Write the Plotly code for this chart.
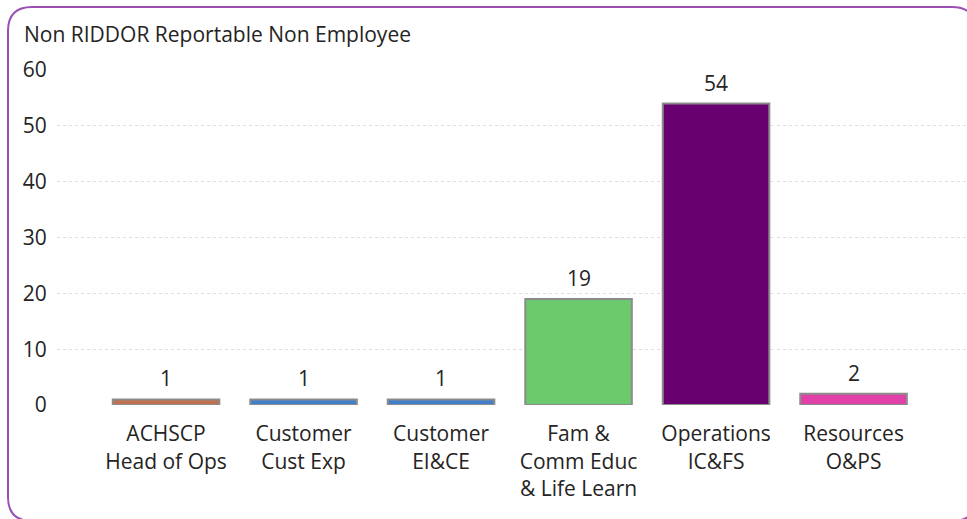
import plotly.graph_objects as go

categories = ["ACHSCP<br>Head of Ops", "Customer<br>Cust Exp", "Customer<br>EI&CE",
              "Fam &<br>Comm Educ<br>& Life Learn", "Operations<br>IC&FS", "Resources<br>O&PS"]
values = [1, 1, 1, 19, 54, 2]
colors = ["#c0704f", "#3f7fcc", "#3f7fcc", "#6cc96c", "#680070", "#e040a8"]
y_ticks = [0, 10, 20, 30, 40, 50, 60]
title = "Non RIDDOR Reportable Non Employee"

W, H = 967, 519
L, R, T, B = 57, 0, 70, 114
pw, ph = W - L - R, H - T - B

def px(x):
    return (x - L) / pw

def py(y):
    return (H - B - y) / ph

FONT = "Segoe UI, Open Sans, sans-serif"
TXT = "#252423"
FS = 21

fig = go.Figure()
fig.add_trace(go.Bar(
    x=categories, y=values,
    marker=dict(color=colors, line=dict(color="#8c8c8c", width=2)),
    width=0.775,
    hoverinfo="skip",
))

for c, v in zip(categories, values):
    fig.add_annotation(x=c, y=v, text=str(v), showarrow=False,
                       yanchor="bottom", yshift=5,
                       font=dict(family=FONT, size=FS, color=TXT))

# rounded border
x0, y0, x1, y1, r = 8, 7, 976, 521, 24
path = (f"M {px(x0+r)},{py(y0)} L {px(x1-r)},{py(y0)} Q {px(x1)},{py(y0)} {px(x1)},{py(y0+r)} "
        f"L {px(x1)},{py(y1-r)} Q {px(x1)},{py(y1)} {px(x1-r)},{py(y1)} "
        f"L {px(x0+r)},{py(y1)} Q {px(x0)},{py(y1)} {px(x0)},{py(y1-r)} "
        f"L {px(x0)},{py(y0+r)} Q {px(x0)},{py(y0)} {px(x0+r)},{py(y0)} Z")
fig.add_shape(type="path", path=path, xref="paper", yref="paper",
              line=dict(color="#9b4fb3", width=2), layer="above")

fig.update_layout(
    width=W, height=H,
    margin=dict(l=L, r=R, t=T, b=B),
    paper_bgcolor="white", plot_bgcolor="white",
    showlegend=False,
    title=dict(text=title, x=24 / W, xanchor="left", y=1 - 35 / H, yanchor="middle",
               font=dict(family=FONT, size=FS, color=TXT)),
    font=dict(family=FONT, size=FS, color=TXT),
    bargap=0.2,
)
fig.update_xaxes(
    range=[-0.793, 5.825], showgrid=False, zeroline=False, showline=False,
    ticks="outside", ticklen=10, tickcolor="rgba(0,0,0,0)",
    tickfont=dict(family=FONT, size=FS, color=TXT),
)
fig.update_yaxes(
    range=[0, 60], tickvals=y_ticks, showgrid=True, gridcolor="#dcdcdc",
    griddash="dot", gridwidth=1, zeroline=False, showline=False,
    ticks="outside", ticklen=5, tickcolor="rgba(0,0,0,0)",
    tickfont=dict(family=FONT, size=FS, color=TXT),
)

fig.write_html("out.html", config={"displayModeBar": False},
               post_script="document.body.style.margin='0';document.body.style.overflow='hidden';")
